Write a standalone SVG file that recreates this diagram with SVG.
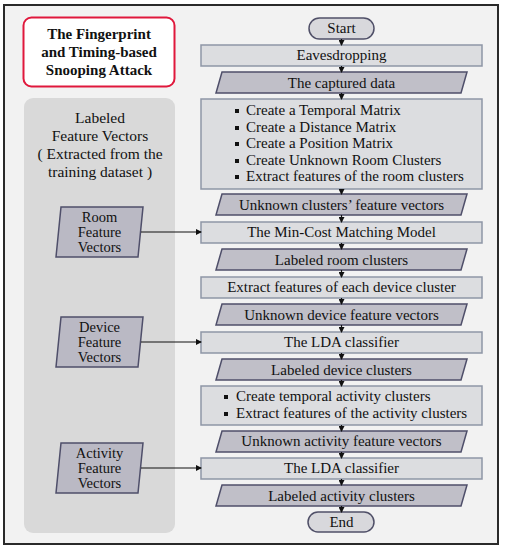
<svg xmlns="http://www.w3.org/2000/svg" width="505" height="550" viewBox="0 0 505 550">
<defs>
<marker id="ah" markerWidth="6" markerHeight="6" refX="5" refY="3" orient="auto" markerUnits="userSpaceOnUse">
<path d="M0,0 L6,3 L0,6 Z" fill="#111"/>
</marker>
<style>
text{font-family:"Liberation Serif","Times New Roman",serif;fill:#111;}
.t{font-size:15px;text-anchor:middle;}
.s{font-size:14.5px;text-anchor:middle;}
.l{font-size:15px;}
.title{font-size:15px;font-weight:bold;text-anchor:middle;}
.box{fill:#dcdde0;stroke:#8e96a6;stroke-width:1.5;}
.para{fill:#c0bfc8;stroke:#4f4f6a;stroke-width:1.5;}
.term{fill:#d8d8dc;stroke:#505068;stroke-width:1.5;}
.lpara{fill:#bab9c4;stroke:#4f4f6a;stroke-width:1.5;}
.c{stroke:#111;stroke-width:1.2;fill:none;marker-end:url(#ah);}
</style>
</defs>
<rect x="4" y="5" width="494" height="539" fill="#f2f2f2" stroke="#2a2a2a" stroke-width="2"/>

<g id="title">
<rect x="23.5" y="17.5" width="151" height="69" rx="8" fill="#ffffff" stroke="#e0183c" stroke-width="2"/>
<text class="title" x="99" y="39">The Fingerprint</text>
<text class="title" x="99" y="57">and Timing-based</text>
<text class="title" x="99" y="75">Snooping Attack</text>
</g>

<g id="panel">
<rect x="24" y="98" width="151" height="435" rx="9" fill="#d9d9d9"/>
<text class="t" x="100" y="123" style="font-size:15.5px">Labeled</text>
<text class="t" x="100" y="141" style="font-size:15.5px">Feature Vectors</text>
<text class="t" x="100" y="159" style="font-size:15.5px">( Extracted from the</text>
<text class="t" x="100" y="177" style="font-size:15.5px">training dataset )</text>
</g>

<g id="room-fv">
<polygon class="lpara" points="61,207 143,207 138,257 56,257"/>
<text class="s" x="99.5" y="221.5">Room</text>
<text class="s" x="99.5" y="236.5">Feature</text>
<text class="s" x="99.5" y="251.5">Vectors</text>
</g>
<g id="device-fv">
<polygon class="lpara" points="61,317 143,317 138,367 56,367"/>
<text class="s" x="99.5" y="331.5">Device</text>
<text class="s" x="99.5" y="346.5">Feature</text>
<text class="s" x="99.5" y="361.5">Vectors</text>
</g>
<g id="activity-fv">
<polygon class="lpara" points="61,443 143,443 138,493 56,493"/>
<text class="s" x="99.5" y="457.5">Activity</text>
<text class="s" x="99.5" y="472.5">Feature</text>
<text class="s" x="99.5" y="487.5">Vectors</text>
</g>

<g id="start">
<rect class="term" x="309" y="18" width="65" height="21" rx="10.5"/>
<text class="t" x="341.5" y="33">Start</text>
</g>
<g id="eaves">
<rect class="box" x="201" y="45" width="281" height="21"/>
<text class="t" x="341.5" y="60">Eavesdropping</text>
</g>
<g id="captured">
<polygon class="para" points="222,72 467,72 461,93 216,93"/>
<text class="t" x="341.5" y="88">The captured data</text>
</g>
<g id="room-steps">
<rect class="box" x="201" y="99" width="281" height="90"/>
<rect x="235" y="109" width="4" height="4" fill="#111"/>
<text class="l" x="246" y="115">Create a Temporal Matrix</text>
<rect x="235" y="126" width="4" height="4" fill="#111"/>
<text class="l" x="246" y="132">Create a Distance Matrix</text>
<rect x="235" y="142" width="4" height="4" fill="#111"/>
<text class="l" x="246" y="148">Create a Position Matrix</text>
<rect x="235" y="159" width="4" height="4" fill="#111"/>
<text class="l" x="246" y="165">Create Unknown Room Clusters</text>
<rect x="235" y="175" width="4" height="4" fill="#111"/>
<text class="l" x="246" y="181">Extract features of the room clusters</text>
</g>
<g id="unk-clusters">
<polygon class="para" points="222,194 467,194 461,215 216,215"/>
<text class="t" x="341.5" y="210">Unknown clusters’ feature vectors</text>
</g>
<g id="mincost">
<rect class="box" x="201" y="222" width="281" height="21"/>
<text class="t" x="341.5" y="237">The Min-Cost Matching Model</text>
</g>
<g id="lab-room">
<polygon class="para" points="222,249 467,249 461,270 216,270"/>
<text class="t" x="341.5" y="265">Labeled room clusters</text>
</g>
<g id="extract-dev">
<rect class="box" x="201" y="277" width="281" height="21"/>
<text class="t" x="341.5" y="292">Extract features of each device cluster</text>
</g>
<g id="unk-dev">
<polygon class="para" points="222,304 467,304 461,325 216,325"/>
<text class="t" x="341.5" y="320">Unknown device feature vectors</text>
</g>
<g id="lda1">
<rect class="box" x="201" y="332" width="281" height="21"/>
<text class="t" x="341.5" y="347">The LDA classifier</text>
</g>
<g id="lab-dev">
<polygon class="para" points="222,359 467,359 461,380 216,380"/>
<text class="t" x="341.5" y="375">Labeled device clusters</text>
</g>
<g id="act-steps">
<rect class="box" x="201" y="386" width="281" height="39"/>
<rect x="224" y="395" width="4" height="4" fill="#111"/>
<text class="l" x="236" y="401">Create temporal activity clusters</text>
<rect x="224" y="412" width="4" height="4" fill="#111"/>
<text class="l" x="236" y="418">Extract features of the activity clusters</text>
</g>
<g id="unk-act">
<polygon class="para" points="222,431 467,431 461,452 216,452"/>
<text class="t" x="341.5" y="446">Unknown activity feature vectors</text>
</g>
<g id="lda2">
<rect class="box" x="201" y="458" width="281" height="21"/>
<text class="t" x="341.5" y="473">The LDA classifier</text>
</g>
<g id="lab-act">
<polygon class="para" points="222,485 467,485 461,506 216,506"/>
<text class="t" x="341.5" y="501">Labeled activity clusters</text>
</g>
<g id="end">
<rect class="term" x="308" y="512" width="66" height="20" rx="10"/>
<text class="t" x="341.5" y="527">End</text>
</g>

<g id="connectors">
<line class="c" x1="341.5" y1="39" x2="341.5" y2="45"/>
<line class="c" x1="341.5" y1="66" x2="341.5" y2="72"/>
<line class="c" x1="341.5" y1="93" x2="341.5" y2="99"/>
<line class="c" x1="341.5" y1="189" x2="341.5" y2="194"/>
<line class="c" x1="341.5" y1="215" x2="341.5" y2="222"/>
<line class="c" x1="341.5" y1="243" x2="341.5" y2="249"/>
<line class="c" x1="341.5" y1="270" x2="341.5" y2="277"/>
<line class="c" x1="341.5" y1="298" x2="341.5" y2="304"/>
<line class="c" x1="341.5" y1="325" x2="341.5" y2="332"/>
<line class="c" x1="341.5" y1="353" x2="341.5" y2="359"/>
<line class="c" x1="341.5" y1="380" x2="341.5" y2="386"/>
<line class="c" x1="341.5" y1="425" x2="341.5" y2="431"/>
<line class="c" x1="341.5" y1="452" x2="341.5" y2="458"/>
<line class="c" x1="341.5" y1="479" x2="341.5" y2="485"/>
<line class="c" x1="341.5" y1="506" x2="341.5" y2="512"/>
<line class="c" x1="141" y1="232" x2="201" y2="232"/>
<line class="c" x1="141" y1="342" x2="201" y2="342"/>
<line class="c" x1="141" y1="468" x2="201" y2="468"/>
</g>
</svg>
